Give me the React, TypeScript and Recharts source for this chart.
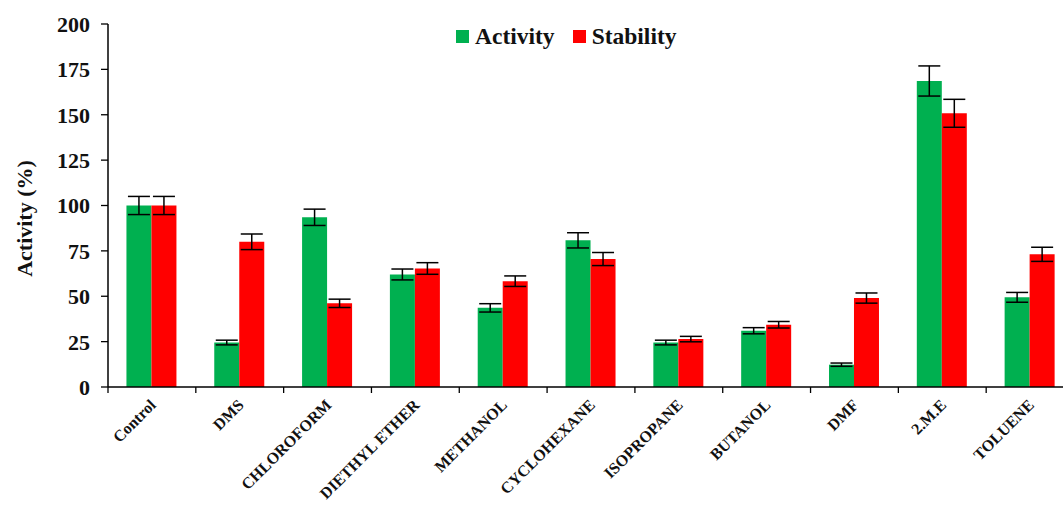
import React from 'react';
import { BarChart, Bar, XAxis, YAxis, ErrorBar } from 'recharts';

const categories = ['Control', 'DMS', 'CHLOROFORM', 'DIETHYL ETHER', 'METHANOL', 'CYCLOHEXANE', 'ISOPROPANE', 'BUTANOL', 'DMF', '2.M.E', 'TOLUENE'];
const activity = [100, 24.5, 93.5, 62, 43.6, 80.8, 24.5, 31, 12.3, 168.6, 49.4];
const activityErr = [5, 1.3, 4.5, 3, 2.3, 4.2, 1.3, 1.7, 0.9, 8.3, 2.7];
const stability = [100, 80, 46.1, 65.3, 58.3, 70.5, 26.4, 34.3, 49, 150.8, 73.1];
const stabilityErr = [5, 4.3, 2.3, 3.2, 2.9, 3.6, 1.5, 1.8, 2.8, 7.7, 3.9];
const yTicks = [0, 25, 50, 75, 100, 125, 150, 175, 200];

const data = categories.map((c, i) => ({
  name: c,
  activity: activity[i],
  activityErr: activityErr[i],
  stability: stability[i],
  stabilityErr: stabilityErr[i],
}));

const FONT = '"Liberation Serif", "Times New Roman", serif';
const GREEN = '#00B050';
const RED = '#FF0000';

const XTick = (props: any) => {
  const { x, y, payload } = props;
  const off = payload && payload.offset ? payload.offset : 44;
  return (
    <g>
      <line x1={x - off} x2={x - off} y1={y - 8} y2={y - 2} stroke="#000" strokeWidth={1.3} />
      <text
        x={x + 5}
        y={y + 11}
        transform={`rotate(-45, ${x + 5}, ${y + 11})`}
        textAnchor="end"
        fontFamily={FONT}
        fontWeight="bold"
        fontSize={16}
        fill="#111"
      >
        {payload.value}
      </text>
    </g>
  );
};

const YTick = (props: any) => {
  const { x, y, payload } = props;
  return (
    <text
      x={x - 9}
      y={y}
      dy="0.36em"
      textAnchor="end"
      fontFamily={FONT}
      fontWeight="bold"
      fontSize={22}
      fill="#111"
    >
      {payload.value}
    </text>
  );
};

const YLabel = (props: any) => {
  const vb = props.viewBox || { x: 0, y: 24, width: 108, height: 363 };
  const cx = vb.x + 24;
  const cy = vb.y + vb.height / 2 + 13;
  return (
    <text
      x={cx}
      y={cy}
      dy="0.36em"
      transform={`rotate(-90, ${cx}, ${cy})`}
      textAnchor="middle"
      fontFamily={FONT}
      fontWeight="bold"
      fontSize={22}
      fill="#111"
    >
      Activity (%)
    </text>
  );
};

const LegendContent = () => (
  <div style={{ display: 'flex', alignItems: 'center', fontFamily: FONT, fontWeight: 'bold', fontSize: 23.5, color: '#111' }}>
    <span style={{ display: 'inline-block', width: 13, height: 13, background: GREEN, marginRight: 6 }} />
    <span style={{ marginRight: 18 }}>Activity</span>
    <span style={{ display: 'inline-block', width: 13, height: 13, background: RED, marginRight: 6 }} />
    <span>Stability</span>
  </div>
);

export default function App() {
  return (
    <div style={{ position: 'absolute', left: 0, top: 0, width: 1080, height: 505, background: '#fff' }}>
      <BarChart
        width={1080}
        height={505}
        data={data}
        margin={{ top: 24, right: 6, left: 0, bottom: 0 }}
        barCategoryGap="21%"
        barGap={0}
      >
        <XAxis
          dataKey="name"
          interval={0}
          height={118}
          tickLine={false}
          axisLine={{ stroke: '#000', strokeWidth: 1.5 }}
          tick={<XTick />}
        />
        <YAxis
          width={108}
          domain={[0, 200]}
          ticks={yTicks}
          interval={0}
          tickSize={7}
          tickLine={{ stroke: '#000', strokeWidth: 1.3 }}
          axisLine={{ stroke: '#000', strokeWidth: 1.5 }}
          tick={<YTick />}
          label={<YLabel />}
        />
        <Bar dataKey="activity" fill={GREEN} isAnimationActive={false}>
          <ErrorBar dataKey="activityErr" width={11} stroke="#000" strokeWidth={1.5} />
        </Bar>
        <Bar dataKey="stability" fill={RED} isAnimationActive={false}>
          <ErrorBar dataKey="stabilityErr" width={11} stroke="#000" strokeWidth={1.5} />
        </Bar>
      </BarChart>
      <div style={{ position: 'absolute', left: 456, top: 23 }}>
        <LegendContent />
      </div>
    </div>
  );
}
